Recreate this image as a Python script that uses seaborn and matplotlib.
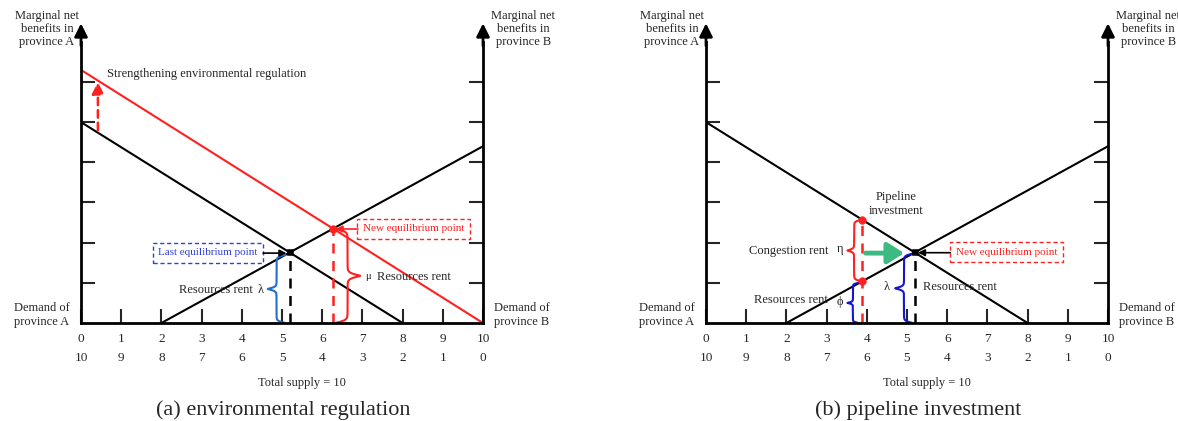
import numpy as np
import matplotlib
matplotlib.use("Agg")
import matplotlib.pyplot as plt
import seaborn as sns

# ---- data -------------------------------------------------------------
supply_a = list(range(0, 11))            # supply to province A (top row)
supply_b = list(range(10, -1, -1))       # supply to province B (bottom row)
y_ticks = [1, 2, 3, 4, 5, 6]

# marginal net benefit curves (endpoints)
demand_a_x = [0, 8]
demand_a_y = [5, 0]
demand_b_x = [2, 10]
demand_b_y = [0, 4.4]
regulated_a_x = [0, 10]
regulated_a_y = [6.3, 0]

# pipeline constraint (supply reaching province A before investment)
pipeline_supply = 3.89

# ---- style ------------------------------------------------------------
sns.set_style("white")
plt.rcParams["font.family"] = ["Liberation Serif", "DejaVu Serif"]
plt.rcParams["mathtext.fontset"] = "stix"

RED = "#ff2020"
BLUE_L = "#1f6fd0"
BLUE_D = "#1414d2"
BOX_BLUE = "#3040d8"
GREEN = "#3dba82"
FS = 9

W, H = 1178, 421
fig = plt.figure(figsize=(W / 100, H / 100), dpi=100)

YTOP = 7.0
UX, UY = 40.2, 40.17


def make_axes(left_px):
    ax = fig.add_axes([left_px / W, (H - 323) / H, 10 * UX / W, YTOP * UY / H])
    ax.set_xlim(0, 10)
    ax.set_ylim(0, YTOP)
    for s in ["left", "right", "bottom"]:
        ax.spines[s].set_linewidth(2)
        ax.spines[s].set_color("black")
    ax.spines["top"].set_visible(False)
    ax.set_xticks(supply_a)
    ax.set_xticklabels([f"{a}\n{b}" for a, b in zip(supply_a, supply_b)],
                       fontsize=9.5, linespacing=1.85)
    ax.set_yticks(y_ticks)
    ax.set_yticklabels([])
    ax.tick_params(axis="x", direction="in", length=10, width=1.5, pad=7,
                   top=False, bottom=True)
    ax.tick_params(axis="y", direction="in", length=10, width=1.5,
                   left=True, right=True)
    ax.set_xlabel("")
    ax.set_ylabel("")
    # arrow heads on both vertical axes
    for xa in (0, 10):
        ax.annotate("", xy=(xa, 7.46), xytext=(xa, 6.9),
                    arrowprops=dict(arrowstyle="-|>,head_length=0.6,head_width=0.3",
                                    mutation_scale=13, lw=2, color="black",
                                    shrinkA=0, shrinkB=0),
                    annotation_clip=False)
    # axis captions
    ax.text(-0.85, 7.32, "Marginal net\nbenefits in\nprovince A", ha="center",
            va="center", fontsize=FS, linespacing=1.15)
    ax.text(11.0, 7.32, "Marginal net\nbenefits in\nprovince B", ha="center",
            va="center", fontsize=FS, linespacing=1.15)
    ax.text(-0.98, 0.2, "Demand of\nprovince A", ha="center", va="center",
            fontsize=FS, linespacing=1.15)
    ax.text(10.97, 0.2, "Demand of\nprovince B", ha="center", va="center",
            fontsize=FS, linespacing=1.15)
    ax.text(5.5, -1.5, "Total supply = 10", ha="center", va="center", fontsize=FS)
    return ax


def intersect(x1, y1, x2, y2):
    m1 = (y1[1] - y1[0]) / (x1[1] - x1[0])
    m2 = (y2[1] - y2[0]) / (x2[1] - x2[0])
    b1 = y1[0] - m1 * x1[0]
    b2 = y2[0] - m2 * x2[0]
    x = (b2 - b1) / (m1 - m2)
    return x, m1 * x + b1


def value_at(xs, ys, x):
    m = (ys[1] - ys[0]) / (xs[1] - xs[0])
    return ys[0] + m * (x - xs[0])


def brace(ax, x_end, y0, y1, width, color, tip="left", lw=1.5, k=32):
    half = np.linspace(0, 1, 150)
    prof = 1 / (1 + np.exp(-k * half)) + 1 / (1 + np.exp(-k * (half - 1))) - 0.5
    full = np.concatenate([prof, prof[::-1]])
    ys = np.linspace(y0, y1, full.size)
    sign = 1 if tip == "left" else -1
    ax.plot(x_end - sign * width * full, ys, color=color, lw=lw,
            solid_capstyle="round", clip_on=False)


def curves(ax, xs, ys, color):
    sns.lineplot(x=xs, y=ys, ax=ax, color=color, linewidth=1.5, legend=False)


def boxed(ax, x, y, text, color):
    ax.text(x, y, text, ha="center", va="center", fontsize=8, color=color,
            bbox=dict(boxstyle="square,pad=0.5", fc="white", ec=color, lw=1,
                      ls=(0, (3, 2))))


def arrow(ax, x0, x1, y, color, lw=1.2, scale=10):
    ax.annotate("", xy=(x1, y), xytext=(x0, y),
                arrowprops=dict(arrowstyle="-|>", color=color, lw=lw,
                                mutation_scale=scale, shrinkA=0, shrinkB=0))


# ---- (a) environmental regulation --------------------------------------
ax1 = make_axes(81)
curves(ax1, demand_a_x, demand_a_y, "black")
curves(ax1, demand_b_x, demand_b_y, "black")
curves(ax1, regulated_a_x, regulated_a_y, RED)

old_x, old_y = intersect(demand_a_x, demand_a_y, demand_b_x, demand_b_y)
new_x, new_y = intersect(regulated_a_x, regulated_a_y, demand_b_x, demand_b_y)

ax1.plot([old_x, old_x], [0, old_y], color="black", lw=1.8, ls=(0, (4, 3)))
ax1.plot([new_x, new_x], [0, new_y], color=RED, lw=1.8, ls=(0, (4, 3)))
sns.scatterplot(x=[old_x], y=[old_y], ax=ax1, color="black", s=24,
                marker="s", edgecolor="black", zorder=5, legend=False)
sns.scatterplot(x=[new_x], y=[new_y], ax=ax1, color=RED, s=30,
                marker="o", edgecolor=RED, zorder=5, legend=False)

# upward shift of province A's curve
ax1.annotate("", xy=(0.42, 6.0), xytext=(0.42, 4.8),
             arrowprops=dict(arrowstyle="-|>,head_length=0.5,head_width=0.25",
                             mutation_scale=14, color=RED, lw=1.8,
                             ls=(0, (3, 2)), shrinkA=0, shrinkB=0))
ax1.text(0.65, 6.2, "Strengthening environmental regulation", ha="left",
         va="center", fontsize=FS)

bx = 5.08
brace(ax1, bx, 0, value_at(demand_b_x, demand_b_y, bx), 0.43, BLUE_L, tip="left")
ax1.text(4.27, 0.83, "Resources rent", ha="right", va="center", fontsize=FS)
ax1.text(4.47, 0.83, "λ", ha="center", va="center", fontsize=FS)

brace(ax1, new_x + 0.05, 0, new_y, 0.62, RED, tip="right")
ax1.text(7.14, 1.16, "μ", ha="center", va="center", fontsize=7.5)
ax1.text(7.36, 1.14, "Resources rent", ha="left", va="center", fontsize=FS)

boxed(ax1, 3.16, 1.75, "Last equilibrium point", BOX_BLUE)
arrow(ax1, 4.53, old_x - 0.08, 1.74, "black")
boxed(ax1, 8.27, 2.35, "New equilibrium point", RED)
arrow(ax1, 6.89, new_x + 0.06, 2.34, RED)

# ---- (b) pipeline investment -------------------------------------------
ax2 = make_axes(706)
curves(ax2, demand_a_x, demand_a_y, "black")
curves(ax2, demand_b_x, demand_b_y, "black")

eq_x, eq_y = intersect(demand_a_x, demand_a_y, demand_b_x, demand_b_y)
top_y = value_at(demand_a_x, demand_a_y, pipeline_supply)
low_y = value_at(demand_b_x, demand_b_y, pipeline_supply)

ax2.plot([eq_x, eq_x], [0, eq_y], color="black", lw=1.8, ls=(0, (4, 3)))
ax2.plot([pipeline_supply, pipeline_supply], [0, top_y], color=RED, lw=1.8,
         ls=(0, (4, 3)))
sns.scatterplot(x=[eq_x], y=[eq_y], ax=ax2, color="black", s=24,
                marker="s", edgecolor="black", zorder=5, legend=False)
sns.scatterplot(x=[pipeline_supply, pipeline_supply], y=[top_y, low_y], ax=ax2,
                color=RED, s=30, marker="o", edgecolor=RED, zorder=5,
                legend=False)

brace(ax2, 3.85, low_y, top_y, 0.33, RED, tip="left")
ax2.text(3.04, 1.8, "Congestion rent", ha="right", va="center", fontsize=FS)
ax2.text(3.34, 1.83, "η", ha="center", va="center", fontsize=FS)

brace(ax2, 3.79, 0, low_y - 0.04, 0.27, BLUE_D, tip="left")
ax2.text(3.02, 0.57, "Resources rent", ha="right", va="center", fontsize=FS)
ax2.text(3.32, 0.52, "ϕ", ha="center", va="center", fontsize=FS)

lx = 5.14
brace(ax2, lx, 0, value_at(demand_b_x, demand_b_y, lx), 0.43, BLUE_D, tip="left")
ax2.text(4.5, 0.9, "λ", ha="center", va="center", fontsize=FS)
ax2.text(5.39, 0.9, "Resources rent", ha="left", va="center", fontsize=FS)

ax2.text(4.74, 2.96, "Pipeline\ninvestment", ha="center", va="center",
         fontsize=FS, linespacing=1.15)
ax2.annotate("", xy=(4.93, 1.74), xytext=(3.97, 1.74),
             arrowprops=dict(arrowstyle="-|>,head_length=0.55,head_width=0.35",
                             mutation_scale=18, color=GREEN, lw=3.5,
                             shrinkA=0, shrinkB=0))

boxed(ax2, 7.48, 1.76, "New equilibrium point", RED)
arrow(ax2, 6.08, eq_x + 0.08, 1.75, "black")

# ---- panel captions ----------------------------------------------------
fig.text(283 / W, 5.5 / H, "(a) environmental regulation", ha="center",
         va="baseline", fontsize=16)
fig.text(918 / W, 5.5 / H, "(b) pipeline investment", ha="center",
         va="baseline", fontsize=16)

fig.savefig("out.png", dpi=100)
